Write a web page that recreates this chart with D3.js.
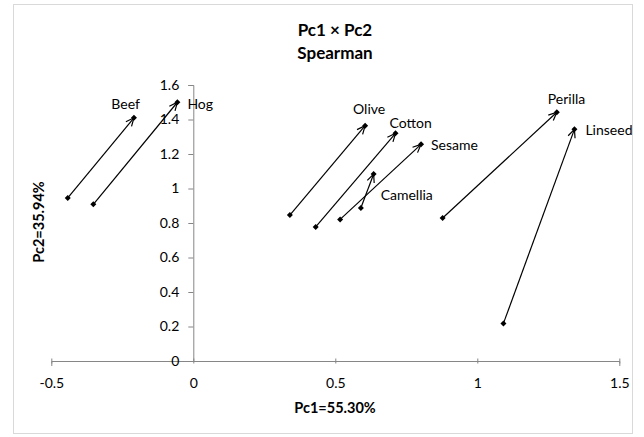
<!DOCTYPE html>
<html><head><meta charset="utf-8">
<script src="https://cdn.jsdelivr.net/npm/d3@7"></script>
<style>body{margin:0;background:#fff}svg{display:block;font-family:Lato,"Open Sans",sans-serif}</style>
</head><body><svg id="c" width="644" height="437"></svg>
<script>
const names = ["Beef","Hog","Olive","Cotton","Sesame","Camellia","Perilla","Linseed"];
const startX = [-0.442,-0.352,0.340,0.431,0.517,0.590,0.878,1.092];
const startY = [0.945,0.908,0.846,0.777,0.821,0.887,0.829,0.218];
const endX   = [-0.209,-0.056,0.605,0.712,0.802,0.635,1.280,1.342];
const endY   = [1.410,1.500,1.364,1.320,1.256,1.084,1.442,1.343];
const xTicks = [-0.5,0,0.5,1,1.5];
const yTicks = [0,0.2,0.4,0.6,0.8,1,1.2,1.4,1.6];
const titleLines = ["Pc1 × Pc2","Spearman"];
const xTitle = "Pc1=55.30%", yTitle = "Pc2=35.94%";
// label placement (style): dx, dy, anchor
const labelStyle = {
  Beef:[6,-9,"end"], Hog:[10,7,"start"], Olive:[4,-12,"middle"], Cotton:[-6,-5,"start"],
  Sesame:[10,6,"start"], Camellia:[7,26,"start"], Perilla:[-9,-8,"start"], Linseed:[11,6,"start"]
};

const svg = d3.select("#c");
svg.append("rect").attr("x",13.5).attr("y",4.5).attr("width",619).attr("height",429)
  .attr("fill","#fff").attr("stroke","#d9d9d9").attr("stroke-width",1);

const x = d3.scaleLinear().domain([-0.5,1.5]).range([51.3,619.3]);
const y = d3.scaleLinear().domain([0,1.6]).range([361,85]);

titleLines.forEach((t,i)=>svg.append("text").attr("x",335).attr("y",36+i*23)
  .attr("text-anchor","middle").attr("font-size",17).attr("font-weight","bold").attr("fill","#000").text(t));

const axisColor = "#868686";
const fmt = d => String(d);
const gx = svg.append("g").attr("transform",`translate(0,${y(0)})`)
  .call(d3.axisBottom(x).tickValues(xTicks).tickFormat(fmt).tickSize(5).tickPadding(12));
const gy = svg.append("g").attr("transform",`translate(${x(0)},0)`)
  .call(d3.axisLeft(y).tickValues(yTicks).tickFormat(fmt).tickSize(5).tickPadding(9));
[gx,gy].forEach(g=>{
  g.select(".domain").attr("stroke",axisColor);
  g.selectAll(".tick line").attr("stroke",axisColor);
  g.selectAll(".tick text").attr("fill","#000").attr("font-size",14).attr("font-family","Lato,'Open Sans',sans-serif");
});
gx.selectAll(".tick line").attr("y1",-2.5).attr("y2",2.5);

svg.append("text").attr("x",335).attr("y",413).attr("text-anchor","middle")
  .attr("font-size",14.5).attr("font-weight","bold").text(xTitle);
svg.append("text").attr("transform",`translate(44,222) rotate(-90)`).attr("text-anchor","middle")
  .attr("font-size",14.5).attr("font-weight","bold").text(yTitle);

const data = names.map((n,i)=>({n,x0:startX[i],y0:startY[i],x1:endX[i],y1:endY[i]}));
const g = svg.append("g");
data.forEach(d=>{
  const ax=x(d.x0), ay=y(d.y0), bx=x(d.x1), by=y(d.y1);
  g.append("line").attr("x1",ax).attr("y1",ay).attr("x2",bx).attr("y2",by)
    .attr("stroke","#000").attr("stroke-width",1.2);
  const ang=Math.atan2(by-ay,bx-ax), L=9, w=0.42;
  const p1=[bx-L*Math.cos(ang-w), by-L*Math.sin(ang-w)];
  const p2=[bx-L*Math.cos(ang+w), by-L*Math.sin(ang+w)];
  g.append("path").attr("d",`M${p1}L${bx},${by}L${p2}`).attr("fill","none")
    .attr("stroke","#000").attr("stroke-width",1.2);
  [[ax,ay],[bx,by]].forEach(([px,py])=>g.append("path")
    .attr("d",`M${px},${py-3}L${px+3},${py}L${px},${py+3}L${px-3},${py}Z`).attr("fill","#000"));
  const s=labelStyle[d.n];
  g.append("text").attr("x",bx+s[0]).attr("y",by+s[1]).attr("text-anchor",s[2])
    .attr("font-size",14).attr("fill","#000").text(d.n);
});
</script></body></html>
